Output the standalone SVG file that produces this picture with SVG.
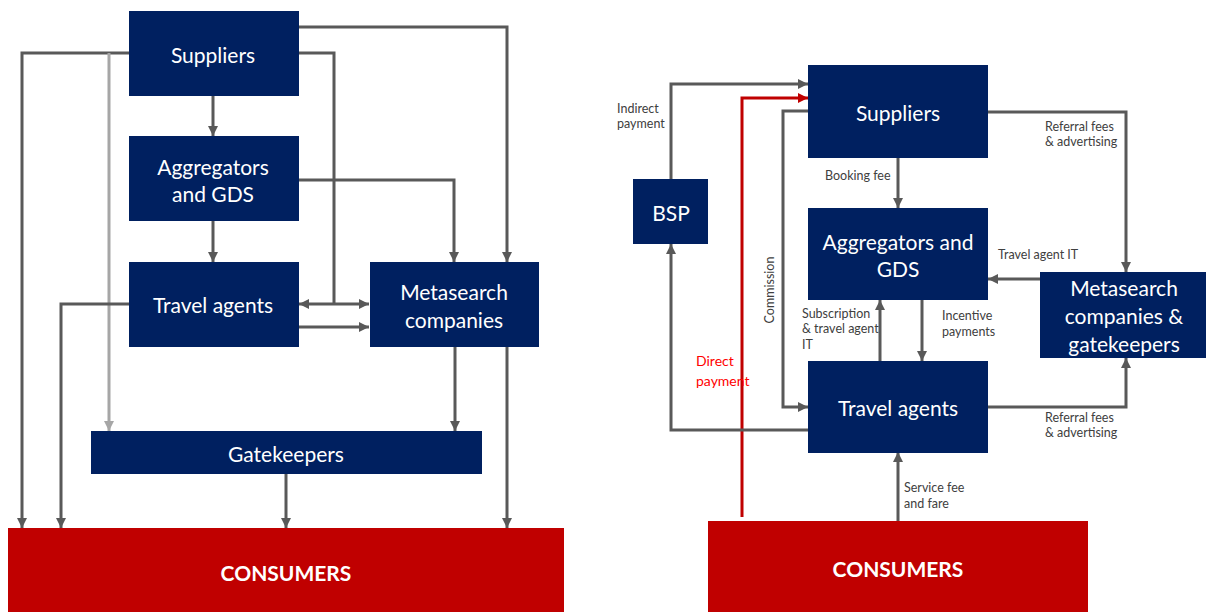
<svg xmlns="http://www.w3.org/2000/svg" width="1206" height="612" viewBox="0 0 1206 612">
<style>
.n{fill:#002060}
.c{fill:#C00000}
.t{font-family:Lato,"Open Sans","Liberation Sans",sans-serif;font-size:21px;fill:#fff;text-anchor:middle;dominant-baseline:central}
.b{font-weight:bold}
.l{fill:none;stroke:#595959;stroke-width:3;marker-end:url(#a)}
.p{fill:none;stroke:#595959;stroke-width:3}
.g{fill:none;stroke:#A6A6A6;stroke-width:3;marker-end:url(#ag)}
.r{fill:none;stroke:#C00000;stroke-width:3;marker-end:url(#ar)}
.s{font-family:Lato,"Open Sans","Liberation Sans",sans-serif;font-size:12.5px;fill:#404040}
</style>
<defs>
<marker id="a" viewBox="0 0 10 10" refX="10" refY="5" markerWidth="10" markerHeight="10" markerUnits="userSpaceOnUse" orient="auto-start-reverse"><path d="M0,0L10,5L0,10z" fill="#595959"/></marker>
<marker id="ag" viewBox="0 0 10 10" refX="10" refY="5" markerWidth="10" markerHeight="10" markerUnits="userSpaceOnUse" orient="auto"><path d="M0,0L10,5L0,10z" fill="#A6A6A6"/></marker>
<marker id="ar" viewBox="0 0 10 10" refX="10" refY="5" markerWidth="10" markerHeight="10" markerUnits="userSpaceOnUse" orient="auto"><path d="M0,0L10,5L0,10z" fill="#C00000"/></marker>
</defs>
<g id="connectors">
<path class="l" d="M129,53H22V528"/>
<path class="g" d="M109,53V431"/>
<path class="p" d="M298,53H334V304"/>
<path class="l" style="marker-start:url(#a)" d="M299,304H369"/>
<path class="l" d="M298,27H507V262"/>
<path class="l" d="M213,96V136"/>
<path class="l" d="M298,180H454V262"/>
<path class="l" d="M213,220V262"/>
<path class="l" d="M129,304H61V528"/>
<path class="l" d="M298,327H369"/>
<path class="l" d="M455,346V431"/>
<path class="l" d="M507,346V528"/>
<path class="l" d="M286,473V528"/>
<path class="l" d="M671,179V84H808"/>
<path class="r" d="M742,517V98H808"/>
<path class="l" d="M808,111H783V407H808"/>
<path class="l" d="M898,158V208"/>
<path class="l" d="M988,112H1126V272"/>
<path class="l" d="M1040,279H988"/>
<path class="l" d="M880,361V300"/>
<path class="l" d="M922,300V361"/>
<path class="l" d="M810,437V430H671V244"/>
<path class="l" d="M988,407H1126V358"/>
<path class="l" d="M898,521V452"/>
</g>
<g id="suppliers-l"><rect class="n" x="129" y="11" width="170" height="85"/><text class="t" x="213" y="54">Suppliers</text></g>
<g id="aggregators-l"><rect class="n" x="129" y="136" width="170" height="85"/><text class="t" x="213" y="166">Aggregators</text><text class="t" x="213" y="193">and GDS</text></g>
<g id="travel-l"><rect class="n" x="129" y="262" width="170" height="85"/><text class="t" x="213" y="304">Travel agents</text></g>
<g id="meta-l"><rect class="n" x="370" y="262" width="169" height="85"/><text class="t" x="454" y="291">Metasearch</text><text class="t" x="454" y="319">companies</text></g>
<g id="gatekeepers-l"><rect class="n" x="91" y="431" width="391" height="43"/><text class="t" x="286" y="453">Gatekeepers</text></g>
<g id="consumers-l"><rect class="c" x="8" y="528" width="556" height="84"/><text class="t b" x="286" y="572">CONSUMERS</text></g>
<g id="bsp"><rect class="n" x="633" y="179" width="75" height="65"/><text class="t" x="671" y="212">BSP</text></g>
<g id="suppliers-r"><rect class="n" x="808" y="65" width="180" height="93"/><text class="t" x="898" y="112">Suppliers</text></g>
<g id="aggregators-r"><rect class="n" x="808" y="208" width="180" height="92"/><text class="t" x="898" y="241">Aggregators and</text><text class="t" x="898" y="268">GDS</text></g>
<g id="travel-r"><rect class="n" x="808" y="361" width="180" height="92"/><text class="t" x="898" y="407">Travel agents</text></g>
<g id="meta-r"><rect class="n" x="1040" y="272" width="166" height="86"/><text class="t" x="1124" y="287">Metasearch</text><text class="t" x="1124" y="315">companies &amp;</text><text class="t" x="1124" y="343">gatekeepers</text></g>
<g id="consumers-r"><rect class="c" x="708" y="521" width="380" height="91"/><text class="t b" x="898" y="568">CONSUMERS</text></g>
<g id="labels">
<text class="s" x="617" y="113">Indirect</text>
<text class="s" x="617" y="128">payment</text>
<text class="s" x="825" y="180">Booking fee</text>
<text class="s" x="1045" y="131">Referral fees</text>
<text class="s" x="1045" y="146">&amp; advertising</text>
<text class="s" x="998" y="259">Travel agent IT</text>
<text class="s" transform="translate(774,290) rotate(-90)" text-anchor="middle">Commission</text>
<text class="s" x="802" y="318">Subscription</text>
<text class="s" x="802" y="333">&amp; travel agent</text>
<text class="s" x="802" y="349">IT</text>
<text class="s" x="942" y="320">Incentive</text>
<text class="s" x="942" y="336">payments</text>
<text class="s" x="696" y="366" style="font-size:14px;fill:#FF0000">Direct</text>
<text class="s" x="696" y="386" style="font-size:14px;fill:#FF0000">payment</text>
<text class="s" x="1045" y="422">Referral fees</text>
<text class="s" x="1045" y="437">&amp; advertising</text>
<text class="s" x="904" y="492">Service fee</text>
<text class="s" x="904" y="508">and fare</text>
</g>
</svg>
